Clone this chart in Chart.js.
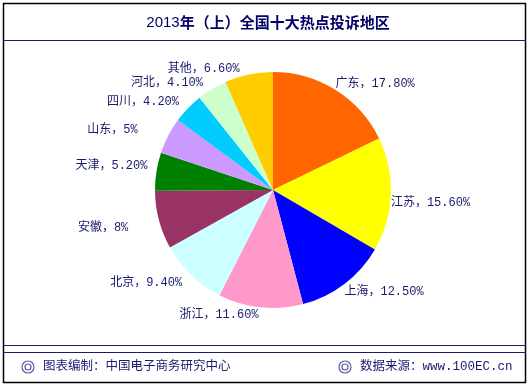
<!DOCTYPE html>
<html>
<head>
<meta charset="utf-8">
<script src="https://cdn.jsdelivr.net/npm/chart.js@4/dist/chart.umd.min.js"></script>
<style>
  html, body { margin: 0; padding: 0; background: #fff; }
  #wrap { width: 530px; height: 388px; position: relative; }
</style>
</head>
<body>
<div id="wrap"><canvas id="chart" width="530" height="388"></canvas></div>
<script>
const regions = ["广东", "江苏", "上海", "浙江", "北京", "安徽", "天津", "山东", "四川", "河北", "其他"];
const shares = [17.8, 15.6, 12.5, 11.6, 9.4, 8, 5.2, 5, 4.2, 4.1, 6.6];
const sliceColors = ["#FF6600", "#FFFF00", "#0000FF", "#FF99CC", "#CCFFFF", "#993366",
  "#008000", "#CC99FF", "#00CCFF", "#CCFFCC", "#FFCC00"];

const titleYear = "2013";
const titleRest = "年（上）全国十大热点投诉地区";
const footerLeft = "图表编制：中国电子商务研究中心";
const footerRight = "数据来源：www.100EC.cn";

const navy = "#1a1a6e";
const labelFont = '12px "Liberation Mono", "Noto Sans CJK SC", monospace';

function fmt(v) {
  return Number.isInteger(v) ? v + "%" : v.toFixed(2) + "%";
}

// frame, title, footer
const framePlugin = {
  id: "frame",
  beforeDraw(chart) {
    const ctx = chart.ctx;
    ctx.save();
    ctx.fillStyle = "#fff";
    ctx.fillRect(0, 0, chart.width, chart.height);
    ctx.strokeStyle = "#000";
    ctx.lineWidth = 1.5;
    ctx.strokeRect(3.5, 3.5, 522, 379);
    ctx.strokeStyle = navy;
    ctx.lineWidth = 1.2;
    [40.5, 345.5, 352.5].forEach((y) => {
      ctx.beginPath();
      ctx.moveTo(4, y);
      ctx.lineTo(526, y);
      ctx.stroke();
    });

    // title: year in regular weight, rest bold
    const yearFont = '15px "Liberation Sans", sans-serif';
    const restFont = 'bold 15px "Noto Sans CJK SC", sans-serif';
    ctx.font = yearFont;
    const w1 = ctx.measureText(titleYear).width;
    ctx.font = restFont;
    const w2 = ctx.measureText(titleRest).width;
    const x0 = 268 - (w1 + w2) / 2;
    ctx.fillStyle = "#000066";
    ctx.textAlign = "left";
    ctx.textBaseline = "middle";
    ctx.font = yearFont;
    ctx.fillText(titleYear, x0, 23);
    ctx.font = restFont;
    ctx.fillText(titleRest, x0 + w1, 22);

    ctx.font = '12.5px "Liberation Mono", "Noto Sans CJK SC", monospace';
    ctx.fillStyle = navy;
    ctx.fillText(footerLeft, 43, 367);
    ctx.fillText(footerRight, 360, 367);
    [28, 345].forEach((x) => {
      ctx.strokeStyle = "#5a5aa0";
      ctx.lineWidth = 1.2;
      ctx.beginPath();
      ctx.arc(x, 367, 6, 0, Math.PI * 2);
      ctx.stroke();
      ctx.beginPath();
      ctx.arc(x, 367, 3, 0, Math.PI * 2);
      ctx.stroke();
    });
    ctx.restore();
  },
};

// outside labels: boxed to the right of the slice on the right half, to the left on the left half
const labelPlugin = {
  id: "outLabels",
  afterDatasetsDraw(chart) {
    const ctx = chart.ctx;
    const meta = chart.getDatasetMeta(0);
    ctx.save();
    ctx.font = labelFont;
    ctx.fillStyle = navy;
    ctx.textAlign = "left";
    ctx.textBaseline = "middle";
    meta.data.forEach((arc, i) => {
      const mid = (arc.startAngle + arc.endAngle) / 2;
      const px = arc.x + Math.cos(mid) * arc.outerRadius;
      const py = arc.y + Math.sin(mid) * arc.outerRadius;
      const x = Math.cos(mid) >= 0 ? px : px - 81;
      const y = Math.sin(mid) < 0 ? py - 6 : py + 8;
      ctx.fillText(regions[i] + "，" + fmt(shares[i]), x, y);
    });
    ctx.restore();
  },
};

new Chart(document.getElementById("chart"), {
  type: "pie",
  data: {
    labels: regions,
    datasets: [{
      data: shares,
      backgroundColor: sliceColors,
      borderWidth: 0,
    }],
  },
  options: {
    responsive: false,
    animation: false,
    layout: { padding: { top: 72, bottom: 80, left: 100, right: 84 } },
    plugins: {
      legend: { display: false },
      tooltip: { enabled: false },
    },
  },
  plugins: [framePlugin, labelPlugin],
});
</script>
</body>
</html>
